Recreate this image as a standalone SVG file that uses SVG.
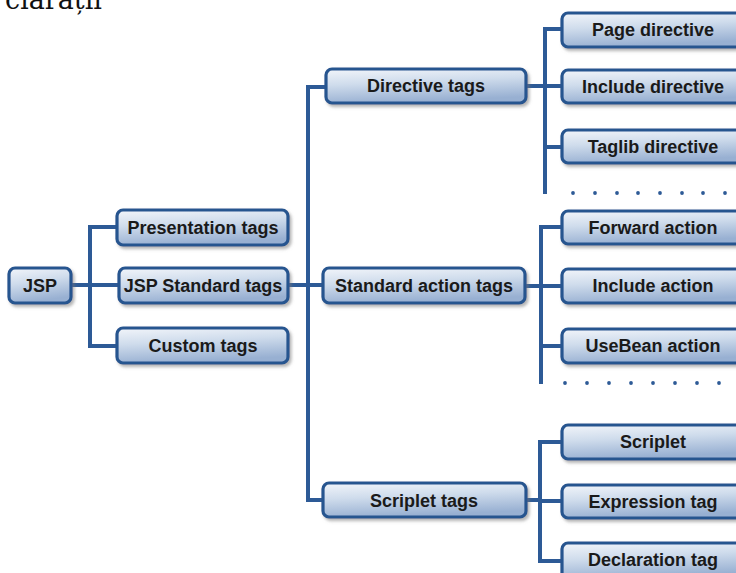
<svg xmlns="http://www.w3.org/2000/svg" width="736" height="573" viewBox="0 0 736 573">
<defs>
<linearGradient id="g" x1="0" y1="0" x2="0.25" y2="1">
<stop offset="0" stop-color="#f2f5fa"/>
<stop offset="0.45" stop-color="#cfdcec"/>
<stop offset="1" stop-color="#98b0d2"/>
</linearGradient>
<filter id="sh" x="-10%" y="-20%" width="130%" height="160%">
<feDropShadow dx="2" dy="2.5" stdDeviation="1.5" flood-color="#777" flood-opacity="0.55"/>
</filter>
<style>
.box{fill:url(#g);stroke:#28548f;stroke-width:3.2;filter:url(#sh)}
.lbl{font-family:"Liberation Sans",Arial,sans-serif;font-weight:bold;font-size:18px;fill:#1a1a1a;text-anchor:middle}
.ln{stroke:#2d5a96;stroke-width:4;fill:none;stroke-linecap:square}
.dot{fill:#2d5a96}
</style>
</defs>
<rect width="736" height="573" fill="#fff"/>
<text x="102" y="9" font-family="'DejaVu Serif',serif" font-size="27" text-anchor="end" fill="#111">clarații</text>

<g id="connectors">
<path class="ln" d="M71 285H119 M90 227V346 M90 227H117 M90 346H117"/>
<path class="ln" d="M288 285H308 M308 87V500 M308 87H326 M308 285H323 M308 500H323"/>
<path class="ln" d="M526 86H545 M545 29V192 M545 29H562 M545 86H562 M545 147H562"/>
<path class="ln" d="M525 286H541 M541 227V382 M541 227H562 M541 286H562 M541 346H562"/>
<path class="ln" d="M526 500H540 M540 442V561 M540 442H562 M540 501H562 M540 561H562"/>
<g class="dot">
<circle cx="573" cy="193" r="1.9"/><circle cx="595" cy="193" r="1.9"/><circle cx="617" cy="193" r="1.9"/><circle cx="638" cy="193" r="1.9"/><circle cx="660" cy="193" r="1.9"/><circle cx="682" cy="193" r="1.9"/><circle cx="703" cy="193" r="1.9"/><circle cx="725" cy="193" r="1.9"/>
<circle cx="565" cy="383" r="1.9"/><circle cx="587" cy="383" r="1.9"/><circle cx="609" cy="383" r="1.9"/><circle cx="631" cy="383" r="1.9"/><circle cx="653" cy="383" r="1.9"/><circle cx="675" cy="383" r="1.9"/><circle cx="697" cy="383" r="1.9"/><circle cx="719" cy="383" r="1.9"/>
</g>
</g>

<g id="jsp"><rect class="box" x="9" y="268" width="62" height="35" rx="6"/><text class="lbl" x="40" y="292">JSP</text></g>
<g id="presentation"><rect class="box" x="117" y="210" width="171" height="35" rx="6"/><text class="lbl" x="203" y="234">Presentation tags</text></g>
<g id="jspstandard"><rect class="box" x="119" y="268" width="169" height="35" rx="6"/><text class="lbl" x="203" y="292">JSP Standard tags</text></g>
<g id="custom"><rect class="box" x="117" y="328" width="171" height="35" rx="6"/><text class="lbl" x="203" y="352">Custom tags</text></g>

<g id="directive"><rect class="box" x="326" y="69" width="200" height="34" rx="6"/><text class="lbl" x="426" y="92">Directive tags</text></g>
<g id="standardaction"><rect class="box" x="323" y="268" width="202" height="35" rx="6"/><text class="lbl" x="424" y="292">Standard action tags</text></g>
<g id="scripletTags"><rect class="box" x="323" y="483" width="203" height="34" rx="6"/><text class="lbl" x="424" y="507">Scriplet tags</text></g>

<g id="page"><rect class="box" x="562" y="13" width="182" height="34" rx="6"/><text class="lbl" x="653" y="36">Page directive</text></g>
<g id="includedir"><rect class="box" x="562" y="70" width="182" height="33" rx="6"/><text class="lbl" x="653" y="93">Include directive</text></g>
<g id="taglib"><rect class="box" x="562" y="130" width="182" height="33" rx="6"/><text class="lbl" x="653" y="153">Taglib directive</text></g>
<g id="forward"><rect class="box" x="562" y="211" width="182" height="33" rx="6"/><text class="lbl" x="653" y="234">Forward action</text></g>
<g id="includeaction"><rect class="box" x="562" y="269" width="182" height="34" rx="6"/><text class="lbl" x="653" y="292">Include action</text></g>
<g id="usebean"><rect class="box" x="562" y="329" width="182" height="34" rx="6"/><text class="lbl" x="653" y="352">UseBean action</text></g>
<g id="scriplet"><rect class="box" x="562" y="425" width="182" height="34" rx="6"/><text class="lbl" x="653" y="448">Scriplet</text></g>
<g id="expression"><rect class="box" x="562" y="485" width="182" height="33" rx="6"/><text class="lbl" x="653" y="508">Expression tag</text></g>
<g id="declaration"><rect class="box" x="562" y="543" width="182" height="36" rx="6"/><text class="lbl" x="653" y="566">Declaration tag</text></g>
</svg>
